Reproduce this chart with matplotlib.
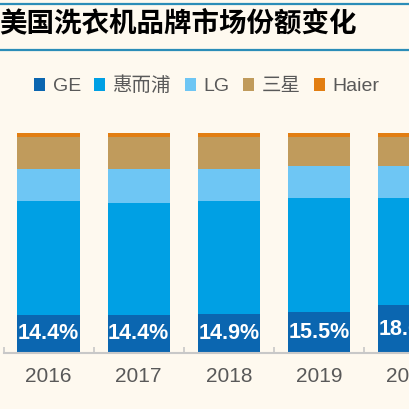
import numpy as np
import matplotlib
matplotlib.use("Agg")
import matplotlib.pyplot as plt
from matplotlib.lines import Line2D

# market share (%)
years = ["2016", "2017", "2018", "2019", "2020"]
ge = [14.4, 14.4, 14.9, 15.5, 18.0]
whirlpool = [43.2, 42.4, 42.7, 43.1, 40.7]
lg = [12.1, 12.9, 12.1, 12.1, 12.1]
samsung = [12.0, 12.0, 12.0, 11.1, 11.1]
haier = [1.6, 1.6, 1.6, 1.5, 1.5]

series = [("GE", ge, "#0B66B0"),
          ("惠而浦", whirlpool, "#00A0E4"),
          ("LG", lg, "#6EC6F4"),
          ("三星", samsung, "#C09B5C"),
          ("Haier", haier, "#E27E12")]

fonts = ["Liberation Sans", "Noto Sans CJK SC"]
bg = "#FEF9EF"
W = H = 409

fig = plt.figure(figsize=(4.09, 4.09), dpi=100, facecolor=bg)

# title band
for yy in (4, 50):
    fig.add_artist(Line2D([0, 1], [1 - yy / H, 1 - yy / H], color="#2B8DB8", lw=1.6))
fig.text(-1 / W, 1 - 23 / H, "美国洗衣机品牌市场份额变化", ha="left", va="center",
         fontsize=19.8, fontweight="bold", color="black", family=["Noto Sans CJK SC"])

ax = fig.add_axes([3.5 / W, 56 / H, 1 - 3.5 / W, (353 - 131.3) / H])
ax.set_facecolor(bg)

x = np.arange(len(years))
bottom = np.zeros(len(years))
for name, vals, col in series:
    ax.bar(x, vals, width=0.69, bottom=bottom, color=col, label=name, zorder=2)
    bottom += np.array(vals)

for xi, v in zip(x, ge):
    ax.text(xi, v / 2, f"{v:.1f}%", ha="center", va="center", color="white",
            fontsize=15.5, fontweight="bold", family=fonts, zorder=3)

ax.set_xlim(-0.5, (W - 49) / 91)
ax.set_ylim(0, 84)
for s in ("top", "right", "left"):
    ax.spines[s].set_visible(False)
ax.spines["bottom"].set_color("#C8C8C8")
ax.spines["bottom"].set_linewidth(1.5)
ax.set_yticks([])
ax.set_xticks(x)
ax.set_xticklabels(years, fontsize=15, color="#595959", family=fonts)
ax.tick_params(axis="x", which="major", length=0, pad=10)
ax.set_xticks(np.arange(len(years)) - 0.5, minor=True)
ax.tick_params(axis="x", which="minor", direction="in", length=4, width=1.2, color="#C8C8C8")

handles, labels = ax.get_legend_handles_labels()
leg = fig.legend(handles, labels, loc="center", bbox_to_anchor=(207 / W, 1 - 86 / H),
                 ncol=5, frameon=False, handlelength=0.55, handleheight=0.7,
                 handletextpad=0.4, columnspacing=0.7,
                 prop={"family": fonts, "size": 14})
for t in leg.get_texts():
    t.set_color("#595959")

fig.savefig("out.png", dpi=100, facecolor=bg)
